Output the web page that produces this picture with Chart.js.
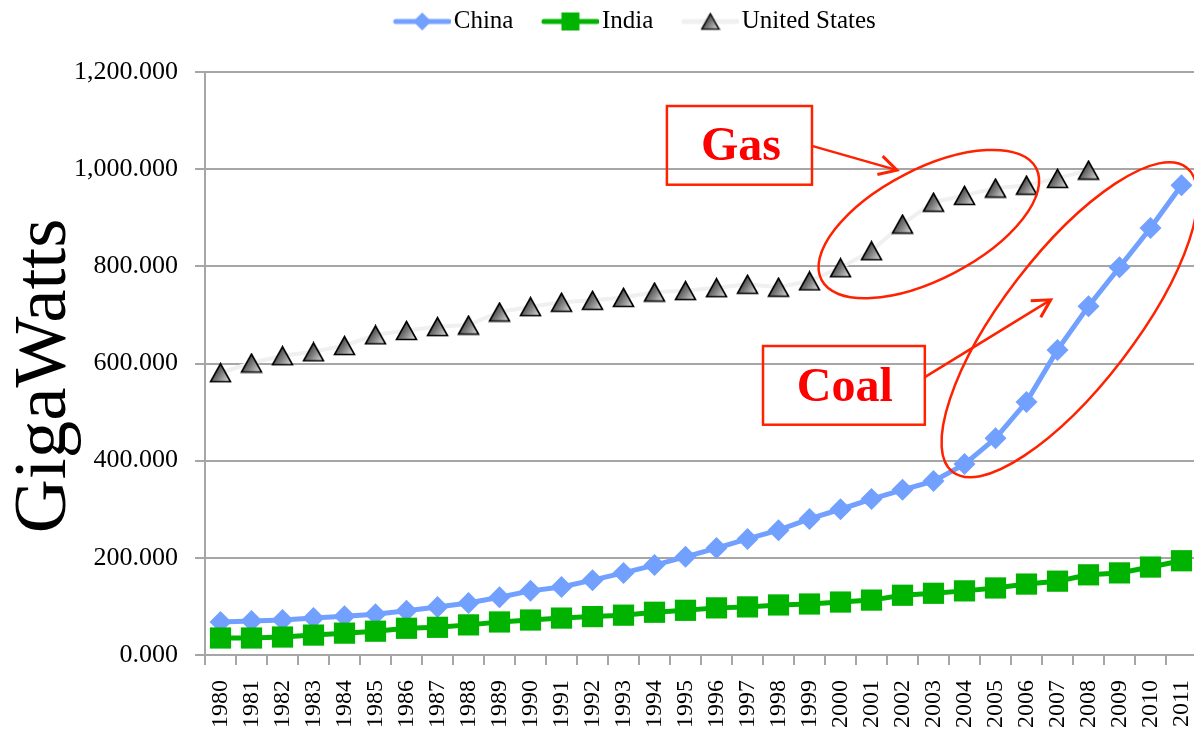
<!DOCTYPE html>
<html>
<head>
<meta charset="utf-8">
<script src="https://cdn.jsdelivr.net/npm/chart.js@4.4.1/dist/chart.umd.min.js"></script>
<style>
html, body { margin: 0; padding: 0; background: #fff; overflow: hidden; }
canvas { display: block; }
</style>
</head>
<body>
<canvas id="capChart" width="1212" height="731"></canvas>
<script>
const years = ['1980','1981','1982','1983','1984','1985','1986','1987','1988','1989',
               '1990','1991','1992','1993','1994','1995','1996','1997','1998','1999',
               '2000','2001','2002','2003','2004','2005','2006','2007','2008','2009',
               '2010','2011'];

// installed capacity, GW
const china = [68, 70, 72, 76, 80, 84, 91, 99, 107, 119, 132, 140, 154, 169, 185, 202,
               220, 239, 257, 280, 300, 321, 340, 358, 393, 446, 521, 628, 718, 798, 879, 967];
const india = [35, 35, 37, 41, 45, 49, 55, 57, 62, 68, 72, 76, 79, 82, 88, 92,
               97, 99, 103, 105, 109, 113, 123, 127, 132, 138, 146, 152, 165, 169, 181, 194];
const unitedStates = [581, 601, 616, 624, 637, 659, 668, 676, 679, 706, 717, 726, 730, 736, 747, 750,
                      756, 763, 757, 770, 797, 832, 887, 932, 946, 961, 967, 981, 998];

const yTickLabels = ['0.000', '200.000', '400.000', '600.000', '800.000', '1,000.000', '1,200.000'];

const SERIF = '"Liberation Serif", "Times New Roman", serif';
const BLUE = '#72a0ff';
const GREEN = '#00b300';
const GRID = '#a6a6a6';
const RED = '#ff2200';

// callouts in data space (category index, value)
const callouts = {
  gas:  { box: [14.4, 1130, 19.08, 968], text: [16.79, 1044], arrow: [19.08, 1048, 21.82, 998],
          ellipse: { at: [22.85, 887], rx: 121, ry: 55, rot: -27.5 } },
  coal: { box: [17.5, 636, 22.72, 474], text: [20.14, 548], arrow: [22.72, 572, 26.78, 731],
          ellipse: { at: [27.39, 690], rx: 192, ry: 66, rot: -52.5 } }
};

function triangleImage() {
  const c = document.createElement('canvas');
  c.width = 23; c.height = 21;
  const g = c.getContext('2d');
  const grad = g.createLinearGradient(3, 4, 21, 17);
  grad.addColorStop(0, '#1e1e1e');
  grad.addColorStop(1, '#d4d4d4');
  g.beginPath();
  g.moveTo(11.5, 1.5); g.lineTo(21.5, 19.5); g.lineTo(1.5, 19.5); g.closePath();
  g.fillStyle = grad; g.fill();
  g.lineWidth = 1.6; g.strokeStyle = '#000'; g.stroke();
  return c;
}
const triImg = triangleImage();

function legendIcon(color, marker) {
  const c = document.createElement('canvas');
  c.width = 86; c.height = 24;
  const g = c.getContext('2d');
  g.strokeStyle = color; g.lineWidth = 5; g.lineCap = 'round';
  g.beginPath(); g.moveTo(31, 12); g.lineTo(84, 12); g.stroke();
  const mx = 57.5, my = 12;
  g.fillStyle = color;
  if (marker === 'diamond') {
    g.beginPath(); g.moveTo(mx, my - 9); g.lineTo(mx + 9, my); g.lineTo(mx, my + 9); g.lineTo(mx - 9, my); g.closePath(); g.fill();
  } else if (marker === 'square') {
    g.fillRect(mx - 9, my - 9, 18, 18);
  } else {
    g.drawImage(triImg, mx - 10, my - 9, 20, 18);
  }
  return c;
}
const legendIcons = [legendIcon(BLUE, 'diamond'), legendIcon(GREEN, 'square'), legendIcon('#f0f0f0', 'triangle')];

// legend sits off-centre in the original, and at the very top
const legendShift = {
  id: 'legendShift',
  afterLayout(chart) {
    const lg = chart.legend;
    lg.left += 20;
    lg.right += 20;
    lg.bottom -= lg.top;
    lg.top = 0;
  }
};

const calloutPlugin = {
  id: 'callouts',
  afterDatasetsDraw(chart) {
    const {ctx, scales: {x, y}} = chart;
    const px = i => x.getPixelForValue(i);
    const py = v => y.getPixelForValue(v);
    ctx.save();
    ctx.strokeStyle = RED;
    ctx.lineWidth = 2.5;
    Object.entries(callouts).forEach(([name, c]) => {
      const [bx1, bv1, bx2, bv2] = c.box;
      ctx.strokeRect(px(bx1), py(bv1), px(bx2) - px(bx1), py(bv2) - py(bv1));
      ctx.font = 'bold 48px ' + SERIF;
      ctx.fillStyle = '#ff0000';
      ctx.textAlign = 'center';
      ctx.textBaseline = 'middle';
      ctx.fillText(name === 'gas' ? 'Gas' : 'Coal', px(c.text[0]), py(c.text[1]));
      // arrow
      const [ax1, av1, ax2, av2] = c.arrow;
      const x1 = px(ax1), y1 = py(av1), x2 = px(ax2), y2 = py(av2);
      ctx.beginPath(); ctx.moveTo(x1, y1); ctx.lineTo(x2, y2); ctx.stroke();
      const ang = Math.atan2(y2 - y1, x2 - x1);
      ctx.beginPath();
      ctx.moveTo(x2 - 20 * Math.cos(ang - 0.5), y2 - 20 * Math.sin(ang - 0.5));
      ctx.lineTo(x2, y2);
      ctx.lineTo(x2 - 20 * Math.cos(ang + 0.5), y2 - 20 * Math.sin(ang + 0.5));
      ctx.lineWidth = 3;
      ctx.stroke();
      ctx.lineWidth = 2.5;
      // ellipse
      const e = c.ellipse;
      ctx.beginPath();
      ctx.ellipse(px(e.at[0]), py(e.at[1]), e.rx, e.ry, e.rot * Math.PI / 180, 0, Math.PI * 2);
      ctx.stroke();
    });
    ctx.restore();
  }
};

Chart.defaults.font.family = SERIF;
Chart.defaults.color = '#000';

new Chart(document.getElementById('capChart'), {
  type: 'line',
  data: {
    labels: years,
    datasets: [
      {
        label: 'China', data: china, order: 2,
        borderColor: BLUE, backgroundColor: BLUE, borderWidth: 5,
        pointStyle: 'rectRot', pointRadius: 11, pointBorderWidth: 0
      },
      {
        label: 'India', data: india, order: 1,
        borderColor: GREEN, backgroundColor: GREEN, borderWidth: 5,
        pointStyle: 'rect', pointRadius: 15, pointBorderWidth: 0
      },
      {
        label: 'United States', data: unitedStates, order: 0,
        borderColor: '#f0f0f0', backgroundColor: '#888', borderWidth: 4,
        pointStyle: triImg, pointRadius: 10
      }
    ]
  },
  options: {
    responsive: false,
    animation: false,
    layout: { padding: { left: 0, right: 2, top: 0, bottom: 0 } },
    plugins: {
      tooltip: { enabled: false },
      legend: {
        position: 'top',
        labels: {
          usePointStyle: true,
          pointStyleWidth: 67,
          padding: 9,
          font: { size: 25, family: SERIF },
          color: '#000',
          sort: (a, b) => a.datasetIndex - b.datasetIndex,
          generateLabels(chart) {
            const items = Chart.defaults.plugins.legend.labels.generateLabels(chart);
            items.forEach(it => { it.pointStyle = legendIcons[it.datasetIndex]; });
            return items;
          }
        }
      }
    },
    scales: {
      x: {
        offset: true,
        grid: { display: true, drawOnChartArea: false, drawTicks: true, tickLength: 10, color: GRID, lineWidth: 2, offset: true },
        border: { display: true, color: GRID, width: 2 },
        ticks: { autoSkip: false, maxRotation: 90, minRotation: 90, padding: 15, font: { size: 24, family: SERIF } },
        afterFit(s) { s.height = 76; s.paddingLeft = 0; s.paddingRight = 0; }
      },
      y: {
        min: 0, max: 1200,
        ticks: {
          stepSize: 200, padding: 17,
          font: { size: 26, family: SERIF },
          callback: (v, i) => yTickLabels[i]
        },
        grid: { color: GRID, lineWidth: 2, tickLength: 10 },
        border: { display: true, color: GRID, width: 2 },
        title: { display: true, text: 'GigaWatts \u200A', font: { size: 75, family: SERIF }, padding: 0, color: '#000' },
        afterFit(s) { s.width = 205; s.paddingTop = 72; }
      }
    }
  },
  plugins: [legendShift, calloutPlugin]
});
</script>
</body>
</html>
